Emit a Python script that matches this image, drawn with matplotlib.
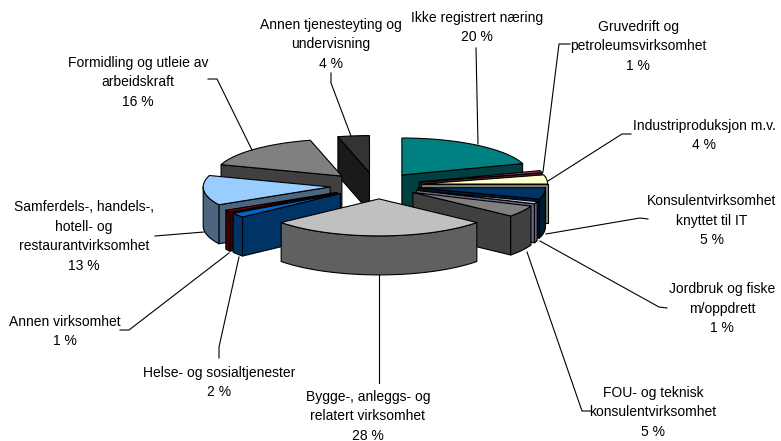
"""Exploded 3D pie of employment by industry
"""
import matplotlib
matplotlib.use('Agg')
import matplotlib.pyplot as plt
import numpy as np
from matplotlib.colors import to_rgb
from matplotlib.patches import Polygon

categories = [
    'Ikke registrert næring',
    'Gruvedrift og\npetroleumsvirksomhet',
    'Industriproduksjon m.v.',
    'Konsulentvirksomhet\nknyttet til IT',
    'Jordbruk og fiske\nm/oppdrett',
    'FOU- og teknisk\nkonsulentvirksomhet',
    'Bygge-, anleggs- og\nrelatert virksomhet',
    'Helse- og sosialtjenester',
    'Annen virksomhet',
    'Samferdels-, handels-,\nhotell- og\nrestaurantvirksomhet',
    'Formidling og utleie av\narbeidskraft',
    'Annen tjenesteyting og\nundervisning',
]
shares = [20, 1, 4, 5, 1, 5, 28, 2, 1, 13, 16, 4]
top_colors = ['#008080', '#993366', '#FFFFCC', '#003366', '#CCCCFF', '#808080',
              '#C0C0C0', '#0066CC', '#800000', '#99CCFF', '#808080', '#333333']

# sideways nudge of each slice, in pixels
nudge_x = [1, 2, 2, 0, 0, 0, 4, 1, 0, -1, -3, 0]

# label centres and leader lines, in pixels of the figure
label_x = [477, 638, 704, 712, 722, 653, 368, 219, 65, 84, 138, 331]
label_y = [27.5, 46, 135.5, 220.5, 309, 412.5, 416, 382.5, 331.5, 236.5, 82, 44]
leaders = [
    [(476, 48)],
    [(570, 44), (559, 44)],
    [(631, 134), (622, 134)],
    [(648, 219), (640, 218)],
    [(667, 308), (659, 307)],
    [(591, 411), (582, 411)],
    [(379, 383)],
    [(219, 358), (219, 347)],
    [(120, 330), (129, 330)],
    [(155, 236)],
    [(208, 79), (217, 79)],
    [(331, 73), (331, 83)],
]
leader_ends = [(478, 144), (543, 172), (548, 181), (546, 234), (540, 241), (527, 252),
               (379, 275), (239, 257), (229, 253), (204, 232), (252, 150), (351, 136)]

CENTER_X = 375
CENTER_Y = 185.7
RADIUS_X = 127
RADIUS_Y = 37
DEPTH = 39
EXPLODE = 44
EXPLODE_FLAT = 0.3


def rim(apex, angles):
    """Points on the ellipse, angles in degrees clockwise from the top
    """
    rad = np.radians(angles)
    return np.column_stack((apex[0] + RADIUS_X * np.sin(rad), apex[1] - RADIUS_Y * np.cos(rad)))


def wall(points):
    """Side surface hanging below a run of top points
    """
    return np.vstack((points, points[::-1] + (0, DEPTH)))


def draw_slice(axis, start, stop, color, nudge):
    """One exploded slice: cut faces, outer wall, then the top
    """
    mid = np.radians((start + stop) / 2)
    apex = (CENTER_X + nudge + EXPLODE * np.sin(mid),
            CENTER_Y - EXPLODE * EXPLODE_FLAT * np.cos(mid))
    arc = rim(apex, np.linspace(start, stop, 80))
    side = tuple(0.5 * part for part in to_rgb(color))
    style = {'edgecolor': 'black', 'linewidth': 0.8, 'joinstyle': 'round'}

    if np.sin(np.radians(stop)) > 1e-6:
        axis.add_patch(Polygon(wall(np.vstack((apex, arc[-1]))), facecolor=side, **style))
    if np.sin(np.radians(start)) < -1e-6:
        axis.add_patch(Polygon(wall(np.vstack((apex, arc[0]))), facecolor=side, **style))
    low = max(start, 90)
    high = min(stop, 270)
    if low < high:
        front = rim(apex, np.linspace(low, high, 80))
        axis.add_patch(Polygon(wall(front), facecolor=side, **style))
    axis.add_patch(Polygon(np.vstack((apex, arc)), facecolor=color, **style))


def main():
    """Draw and save the chart
    """
    fig = plt.figure(figsize=(7.81, 4.41), dpi=100)
    axis = fig.add_axes((0, 0, 1, 1))
    axis.set_xlim(0, 781)
    axis.set_ylim(441, 0)
    axis.axis('off')

    edges = np.cumsum([0] + shares) / sum(shares) * 360
    mids = (edges[:-1] + edges[1:]) / 2
    for index in np.argsort(-np.cos(np.radians(mids))):
        draw_slice(axis, edges[index], edges[index + 1], top_colors[index], nudge_x[index])

    for start, end in zip(leaders, leader_ends):
        points = np.array(start + [end])
        axis.plot(points[:, 0], points[:, 1], color='black', linewidth=0.8)

    for name, share, pos_x, pos_y in zip(categories, shares, label_x, label_y):
        axis.text(pos_x, pos_y, f'{name}\n{share} %', ha='center', va='center',
                  multialignment='center', family='Liberation Sans', fontsize=10,
                  linespacing=1.5, color='black')

    fig.savefig('out.png', dpi=100)


if __name__ == '__main__':
    main()
